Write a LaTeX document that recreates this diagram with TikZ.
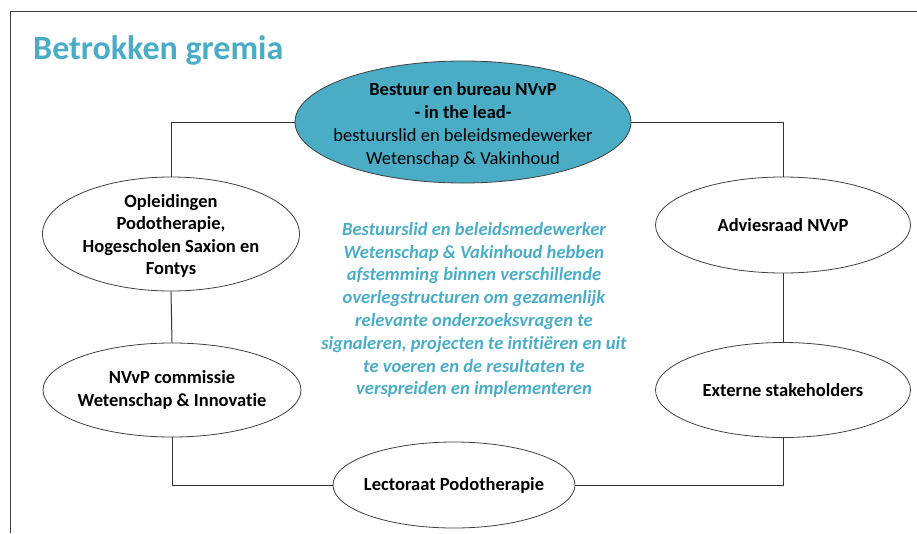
\documentclass[tikz,border=0pt]{standalone}
\usepackage{fontspec}
\setmainfont{Carlito}[Ligatures=NoCommon]
\usetikzlibrary{shapes.geometric}
\definecolor{nvblue}{HTML}{4BACC6}
\definecolor{frame}{HTML}{404040}
\tikzset{
  oval/.style={ellipse, draw=black!75, line width=0.8pt, fill=white, inner sep=0pt},
  ovaltext/.style={align=center, inner sep=0pt, font=\fontsize{18.5}{22.5}\selectfont\bfseries},
  link/.style={draw=black!80, line width=1pt},
}
\begin{document}
\begin{tikzpicture}[x=1pt,y=-1pt]
\useasboundingbox (0,0) rectangle (917,533);
% frame
\draw[frame, line width=1pt] (10,533) -- (10,11) -- (917,11);
% title
\node[anchor=base west, inner sep=0pt, text=nvblue, font=\fontsize{34}{40}\selectfont\bfseries] (title) at (33,59) {Betrokken gremia};
% ellipses
\node[oval, fill=nvblue, minimum width=336pt, minimum height=122pt] (top) at (463,122) {};
\node[oval, minimum width=257pt, minimum height=114pt] (opl) at (171,234) {};
\node[oval, minimum width=258pt, minimum height=94pt] (com) at (172,390) {};
\node[oval, minimum width=255pt, minimum height=96pt] (adv) at (783,225) {};
\node[oval, minimum width=255pt, minimum height=95pt] (ext) at (783,390) {};
\node[oval, minimum width=242pt, minimum height=86pt] (lec) at (454,485) {};
% texts
\node[ovaltext, font=\fontsize{18.5}{23}\selectfont\bfseries] (toptext) at ([yshift=-3pt]top.center)
  {Bestuur en bureau NVvP\\- in the lead-\\\mdseries bestuurslid en beleidsmedewerker\\\mdseries Wetenschap \& Vakinhoud};
\node[ovaltext] (opltext) at ([yshift=-2pt]opl.center) {Opleidingen\\Podotherapie,\\Hogescholen Saxion en\\Fontys};
\node[ovaltext] (comtext) at (com.center) {NVvP commissie\\Wetenschap \& Innovatie};
\node[ovaltext] (advtext) at (adv.center) {Adviesraad NVvP};
\node[ovaltext] (exttext) at (ext.center) {Externe stakeholders};
\node[ovaltext] (lectext) at (lec.center) {Lectoraat Podotherapie};
% connectors
\draw[link] (top.west) -| (opl.north);
\draw[link] (top.east) -| (adv.north);
\draw[link] (opl.south) -- (com.north);
\draw[link] (adv.south) -- (ext.north);
\draw[link] (com.south) |- (lec.west);
\draw[link] (ext.south) |- (lec.east);
% central text
\node[align=center, inner sep=0pt, text=nvblue, font=\fontsize{18.6}{22.8}\selectfont\bfseries\itshape] (mid) at (474,310)
  {Bestuurslid en beleidsmedewerker\\Wetenschap \& Vakinhoud hebben\\afstemming binnen verschillende\\overlegstructuren om gezamenlijk\\relevante onderzoeksvragen te\\signaleren, projecten te intitiëren en uit\\te voeren en de resultaten te\\verspreiden en implementeren};
\end{tikzpicture}
\end{document}
